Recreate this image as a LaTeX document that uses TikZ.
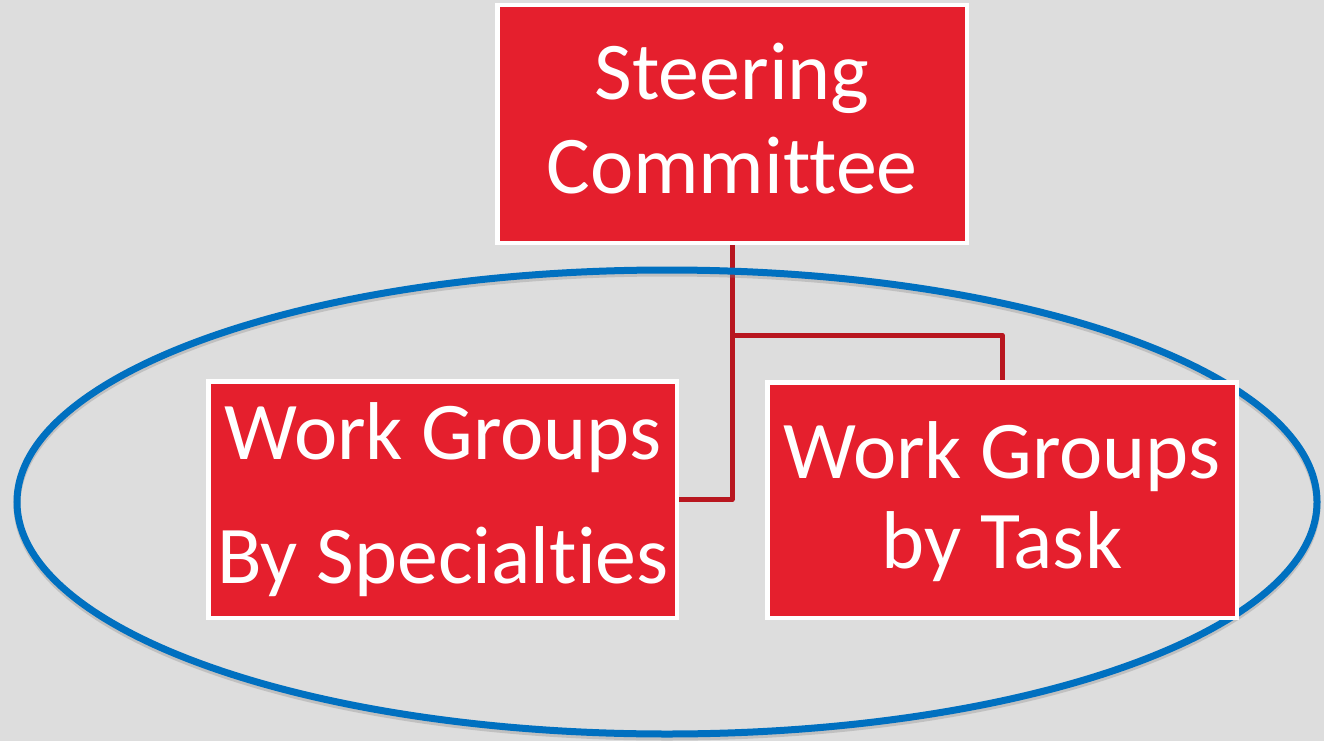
\documentclass[tikz,border=0pt]{standalone}
\usepackage{fontspec}
\setmainfont{Carlito}[Ligatures=NoCommon]
\definecolor{bg}{HTML}{DDDDDD}
\definecolor{boxred}{HTML}{E51F2D}
\definecolor{linkred}{HTML}{B8161F}
\definecolor{ringblue}{HTML}{0070C0}
\begin{document}
\begin{tikzpicture}[x=1pt, y=-1pt,
  orgbox/.style={rectangle, draw=white, line width=4.5pt, fill=boxred,
                 inner sep=0pt},
  boxtext/.style={anchor=base, inner sep=0pt, text=white,
                  font=\fontsize{82}{96}\selectfont},
  link/.style={draw=linkred, line width=5pt, line join=round}]
  \useasboundingbox[fill=bg] (0,0) rectangle (1324,741);

  % boxes
  \node[orgbox, minimum width=465pt, minimum height=233pt] (top) at (732,124) {};
  \node[orgbox, minimum width=464pt, minimum height=232pt] (spec) at (442.5,499.5) {};
  \node[orgbox, minimum width=465pt, minimum height=231pt] (task) at (1002,500) {};

  % connectors
  \coordinate (fork) at (732,335);
  \draw[link] (top.south) |- (spec.east);
  \draw[link] (fork) -| (task.north);

  % ring round the work groups, with its soft shadow
  \draw[gray, opacity=0.3, line width=7pt] (667,505) ellipse [x radius=650, y radius=232];
  \draw[ringblue, line width=7pt] (667,502) ellipse [x radius=650, y radius=232];

  % boxes drawn again so they sit over the ring
  \path[orgbox] (top.north west) rectangle (top.south east);
  \path[orgbox] (spec.north west) rectangle (spec.south east);
  \path[orgbox] (task.north west) rectangle (task.south east);

  % labels
  \node[boxtext] (t1) at (732,100) {Steering};
  \node[boxtext] (t2) at (732,193) {Committee};
  \node[boxtext] (s1) at (443,459) {Work Groups};
  \node[boxtext] (s2) at (443,583) {By Specialties};
  \node[boxtext] (k1) at (1002,478) {Work Groups};
  \node[boxtext] (k2) at (1002,568) {by Task};
\end{tikzpicture}
\end{document}
